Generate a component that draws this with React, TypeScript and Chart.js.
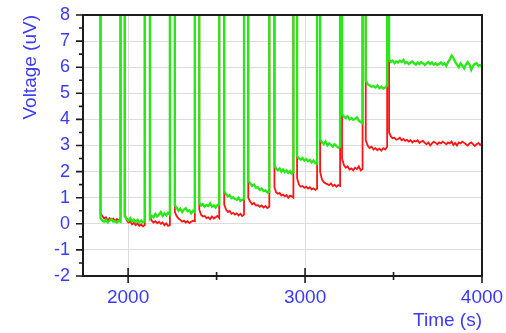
import React, { useEffect, useRef } from "react";
import { Chart, registerables } from "chart.js";

Chart.register(...registerables);

// Time (s) where each low phase starts (line falls from off-scale) and ends (line rises off-scale)
const downTimes = [1844, 1981, 2123, 2264, 2402, 2543, 2679, 2827, 2955, 3085, 3209, 3343, 3475];
const upTimes = [1957, 2094, 2236, 2377, 2515, 2655, 2798, 2934, 3068, 3198, 3325, 3464, 4000];
const HIGH = 12; // off-scale value during the spikes

// Voltage (uV) samples across each low phase, green trace
const greenLevels: number[][] = [
  [0.22, 0.12, 0.08, 0.15, 0.05, 0.12, 0.18, 0.08, 0.1, 0.04, 0.12, 0.08],
  [0.28, 0.2, 0.12, 0.22, 0.1, 0.16, 0.08, 0.15, 0.05, 0.12, 0.06, 0.1],
  [0.2, 0.3, 0.25, 0.38, 0.28, 0.35, 0.45, 0.3, 0.4, 0.32, 0.42, 0.35],
  [0.7, 0.62, 0.5, 0.58, 0.45, 0.55, 0.6, 0.48, 0.52, 0.4, 0.5, 0.45],
  [0.82, 0.7, 0.75, 0.65, 0.72, 0.68, 0.78, 0.66, 0.7, 0.62, 0.72, 0.75],
  [1.25, 1.15, 1.05, 1.1, 0.98, 1.02, 0.95, 0.92, 1.0, 0.88, 0.92, 0.95],
  [1.65, 1.55, 1.45, 1.5, 1.38, 1.4, 1.3, 1.35, 1.25, 1.28, 1.2, 1.22],
  [2.25, 2.1, 2.05, 2.12, 2.0, 2.08, 1.98, 2.05, 1.95, 2.02, 1.92, 1.98],
  [2.6, 2.5, 2.45, 2.52, 2.42, 2.48, 2.4, 2.45, 2.35, 2.42, 2.32, 2.3],
  [3.25, 3.12, 3.05, 3.15, 3.0, 3.08, 3.02, 2.95, 3.05, 2.98, 2.92, 2.95],
  [4.2, 4.1, 4.05, 4.12, 4.0, 4.05, 3.98, 4.02, 4.08, 3.95, 3.9, 3.85],
  [5.5, 5.35, 5.3, 5.25, 5.28, 5.22, 5.3, 5.2, 5.25, 5.18, 5.22, 5.3],
  [6.3, 6.2, 6.25, 6.15, 6.22, 6.18, 6.25, 6.2, 6.28, 6.15, 6.2, 6.12, 6.18, 6.22, 6.15, 6.1, 6.18, 6.12,
   6.2, 6.15, 6.08, 6.15, 6.2, 6.12, 6.18, 6.1, 6.15, 6.08, 6.12, 6.18, 6.1, 6.15, 6.05, 6.2, 6.3, 6.45,
   6.35, 6.2, 6.1, 6.0, 6.15, 6.05, 5.95, 6.1, 6.2, 6.1, 5.9, 6.05, 6.12, 6.15, 6.05, 6.08, 6.02],
];

// Voltage (uV) samples across each low phase, red trace
const redLevels: number[][] = [
  [0.38, 0.3, 0.2, 0.25, 0.12, 0.22, 0.15, 0.2, 0.1, 0.18, 0.14, 0.2],
  [0.35, 0.15, 0.05, 0.1, -0.02, 0.04, -0.05, 0.02, -0.08, -0.02, -0.1, -0.05],
  [0.3, 0.12, 0.05, 0.1, 0.02, 0.08, 0.0, 0.05, -0.05, 0.02, -0.08, -0.05],
  [0.45, 0.3, 0.2, 0.15, 0.08, 0.12, 0.05, 0.1, 0.03, 0.08, 0.12, 0.1],
  [0.55, 0.35, 0.28, 0.3, 0.22, 0.25, 0.18, 0.28, 0.2, 0.25, 0.3, 0.22],
  [0.75, 0.55, 0.45, 0.5, 0.38, 0.42, 0.35, 0.4, 0.32, 0.38, 0.3, 0.35],
  [1.0, 0.85, 0.75, 0.8, 0.7, 0.72, 0.65, 0.7, 0.62, 0.68, 0.6, 0.65],
  [1.4, 1.2, 1.15, 1.18, 1.08, 1.12, 1.05, 1.1, 1.0, 1.08, 1.05, 1.0],
  [1.75, 1.5, 1.42, 1.45, 1.38, 1.42, 1.35, 1.4, 1.32, 1.36, 1.3, 1.34],
  [2.0, 1.7, 1.6, 1.55, 1.52, 1.48, 1.55, 1.45, 1.5, 1.42, 1.48, 1.45],
  [2.5, 2.25, 2.15, 2.2, 2.08, 2.12, 2.05, 2.15, 2.1, 2.2, 2.05, 2.1],
  [3.2, 3.0, 2.9, 2.95, 2.85, 2.9, 2.82, 2.88, 2.8, 2.9, 2.85, 2.95],
  [3.5, 3.35, 3.28, 3.3, 3.22, 3.25, 3.3, 3.2, 3.25, 3.18, 3.22, 3.15, 3.2, 3.12, 3.18, 3.15, 3.2, 3.1,
   3.15, 3.18, 3.1, 3.05, 3.12, 3.0, 3.08, 3.15, 3.1, 3.05, 3.12, 3.08, 3.15, 3.1, 3.05, 3.12, 3.08, 3.15,
   3.02, 3.1, 3.0, 3.12, 3.08, 3.15, 3.1, 3.05, 3.0, 3.08, 3.12, 3.05, 2.98, 3.05, 3.1, 3.02, 3.08],
];

const xTicks = [2000, 3000, 4000];
const xMinorTicks = [2500, 3500];
const yTicks = [-2, -1, 0, 1, 2, 3, 4, 5, 6, 7, 8];
const yMinorTicks = [-1.5, -0.5, 0.5, 1.5, 2.5, 3.5, 4.5, 5.5, 6.5, 7.5];
const X_MIN = 1745;
const X_MAX = 4000;
const Y_MIN = -2;
const Y_MAX = 8;

const BLUE = "#3a3aff";
const FONT = "'Liberation Sans', Arial, sans-serif";

function buildSeries(levels: number[][]) {
  const pts: { x: number; y: number }[] = [];
  for (let i = 0; i < downTimes.length; i++) {
    const d = downTimes[i];
    const u = upTimes[i];
    const lv = levels[i];
    pts.push({ x: d, y: HIGH });
    lv.forEach((v, k) => pts.push({ x: d + ((u - d) * k) / (lv.length - 1), y: v }));
    if (i < downTimes.length - 1) pts.push({ x: u, y: HIGH });
  }
  return pts;
}

const framePlugin = {
  id: "frame",
  afterDatasetsDraw(chart: any) {
    const { ctx, chartArea } = chart;
    const xs = chart.scales.x;
    const ys = chart.scales.y;
    ctx.save();
    ctx.strokeStyle = "#1c1c1c";
    ctx.lineWidth = 2;
    ctx.strokeRect(chartArea.left, chartArea.top, chartArea.right - chartArea.left, chartArea.bottom - chartArea.top);
    ctx.lineWidth = 1.6;
    ctx.beginPath();
    yTicks.forEach((v) => {
      const y = ys.getPixelForValue(v);
      ctx.moveTo(chartArea.left - 7, y);
      ctx.lineTo(chartArea.left, y);
    });
    yMinorTicks.forEach((v) => {
      const y = ys.getPixelForValue(v);
      ctx.moveTo(chartArea.left - 4, y);
      ctx.lineTo(chartArea.left, y);
    });
    xTicks.forEach((v) => {
      const x = xs.getPixelForValue(v);
      ctx.moveTo(x, chartArea.bottom - 8);
      ctx.lineTo(x, chartArea.bottom + 7);
    });
    xMinorTicks.forEach((v) => {
      const x = xs.getPixelForValue(v);
      ctx.moveTo(x, chartArea.bottom - 4);
      ctx.lineTo(x, chartArea.bottom + 4);
    });
    ctx.stroke();
    ctx.restore();
  },
};

export default function App() {
  const ref = useRef<HTMLCanvasElement>(null);
  useEffect(() => {
    if (!ref.current) return;
    const chart = new Chart(ref.current, {
      type: "line",
      data: {
        datasets: [
          {
            label: "green",
            data: buildSeries(greenLevels),
            borderColor: "rgb(40,232,24)",
            borderWidth: 2.3,
            pointRadius: 0,
            tension: 0,
          },
          {
            label: "red",
            data: buildSeries(redLevels),
            borderColor: "rgb(255,20,20)",
            borderWidth: 1.8,
            pointRadius: 0,
            tension: 0,
          },
        ],
      },
      options: {
        animation: false,
        responsive: false,
        parsing: false,
        normalized: true,
        layout: { autoPadding: false, padding: { left: 0, right: 24, top: 15, bottom: 0 } },
        plugins: { legend: { display: false }, tooltip: { enabled: false } },
        scales: {
          x: {
            type: "linear",
            min: X_MIN,
            max: X_MAX,
            afterBuildTicks: (s: any) => {
              s.ticks = xTicks.map((v) => ({ value: v }));
            },
            afterFit: (s: any) => {
              s.height = 57;
              s.paddingLeft = 0;
              s.paddingRight = 0;
            },
            grid: { color: "#dcdcdc", lineWidth: 1, drawTicks: false },
            border: { display: false },
            ticks: {
              color: BLUE,
              font: { family: FONT, size: 19 },
              padding: 10,
              maxRotation: 0,
              callback: (v: any) => String(v),
            },
            title: {
              display: true,
              text: "Time (s)",
              align: "end",
              color: BLUE,
              font: { family: FONT, size: 19 },
              padding: { top: 0, bottom: 1 },
            },
          },
          y: {
            type: "linear",
            min: Y_MIN,
            max: Y_MAX,
            afterBuildTicks: (s: any) => {
              s.ticks = yTicks.map((v) => ({ value: v }));
            },
            afterFit: (s: any) => {
              s.width = 83;
              s.paddingTop = 0;
              s.paddingBottom = 0;
            },
            grid: { color: "#dcdcdc", lineWidth: 1, drawTicks: false },
            border: { display: false },
            ticks: {
              color: BLUE,
              font: { family: FONT, size: 18 },
              padding: 13,
              callback: (v: any) => String(v),
            },
            title: {
              display: true,
              text: "Voltage (uV)",
              align: "end",
              color: BLUE,
              font: { family: FONT, size: 19 },
              padding: { top: 19, bottom: 0 },
            },
          },
        },
      },
      plugins: [framePlugin],
    });
    return () => chart.destroy();
  }, []);
  return (
    <div style={{ position: "absolute", left: 0, top: 0, width: 506, height: 333, background: "#fff" }}>
      <canvas ref={ref} width={506} height={333} />
    </div>
  );
}
